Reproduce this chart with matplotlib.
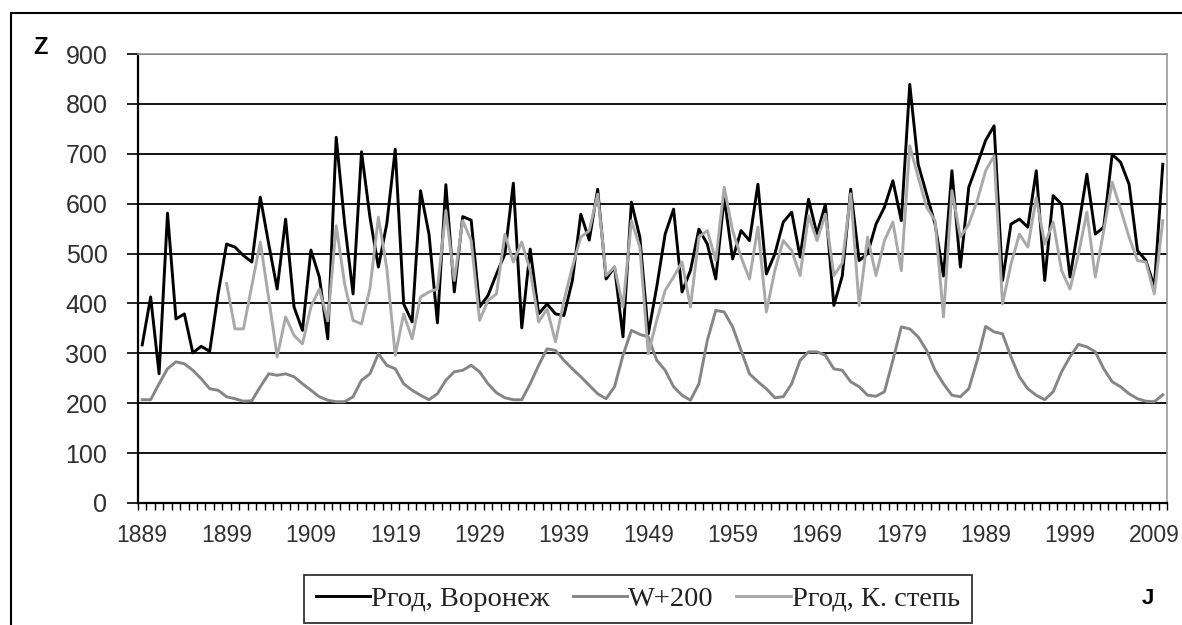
import numpy as np
import matplotlib
matplotlib.use("Agg")
import matplotlib.pyplot as plt
from matplotlib.patches import Rectangle

# years on the category axis
years = list(range(1889, 2011))

# Pгод, Воронеж
voronezh = [
    317, 413, 259, 581, 369, 379, 301, 314, 304, 419,
    519, 513, 496, 483, 613, 519, 429, 569, 393, 346,
    507, 453, 329, 733, 560, 419, 704, 573, 473, 560,
    709, 399, 363, 626, 539, 361, 638, 423, 574, 567,
    393, 416, 459, 499, 641, 351, 509, 379, 399, 379,
    376, 446, 579, 527, 629, 449, 473, 333, 603, 533,
    339, 433, 539, 589, 423, 466, 549, 519, 449, 613,
    489, 546, 526, 639, 459, 499, 563, 583, 493, 609,
    539, 599, 396, 455, 629, 486, 500, 559, 593, 646,
    566, 839, 679, 619, 559, 455, 666, 473, 633, 679,
    727, 756, 446, 559, 569, 553, 666, 446, 616, 599,
    453, 553, 659, 539, 553, 699, 683, 639, 506, 486,
    433, 679,
]

# W+200
w_plus_200 = [
    207, 207, 239, 269, 283, 279, 266, 249, 229, 226,
    213, 209, 204, 205, 233, 259, 256, 259, 253, 239,
    226, 213, 206, 203, 203, 213, 246, 259, 299, 276,
    269, 239, 226, 216, 207, 219, 246, 263, 266, 276,
    263, 239, 221, 211, 207, 207, 239, 276, 309, 306,
    286, 269, 253, 236, 219, 209, 233, 296, 346, 338,
    333, 286, 266, 233, 216, 206, 239, 326, 386, 383,
    353, 306, 259, 243, 229, 211, 213, 239, 286, 303,
    303, 296, 269, 266, 243, 233, 216, 214, 223, 286,
    353, 349, 333, 306, 266, 239, 216, 213, 229, 286,
    354, 343, 339, 293, 253, 229, 216, 207, 223, 263,
    293, 318, 313, 303, 269, 243, 233, 219, 209, 204,
    203, 217,
]

# Pгод, К. степь (series starts in 1899)
kstep_years = list(range(1899, 2011))
kstep = [
    440, 349, 349, 436, 523, 410, 293, 373, 336, 319,
    393, 429, 365, 556, 439, 366, 359, 430, 573, 470,
    296, 379, 329, 413, 423, 429, 586, 446, 566, 526,
    366, 406, 419, 539, 483, 523, 466, 363, 389, 323,
    406, 473, 533, 546, 619, 456, 473, 393, 566, 513,
    299, 366, 426, 453, 483, 393, 533, 546, 486, 633,
    546, 493, 449, 553, 383, 466, 526, 506, 456, 576,
    526, 579, 456, 481, 620, 396, 533, 456, 526, 563,
    466, 716, 653, 593, 566, 373, 626, 533, 559, 606,
    666, 696, 399, 479, 539, 513, 612, 519, 563, 466,
    429, 499, 583, 453, 546, 643, 589, 533, 486, 483,
    419, 566,
]

labels = ["Pгод, Воронеж", "W+200", "Pгод, К. степь"]
colors = ["#000000", "#858585", "#a9a9a9"]

W, H = 1182, 625
fig = plt.figure(figsize=(W / 100, H / 100), dpi=100)
fig.patch.set_facecolor("white")

# outer chart border (right/bottom run off the picture)
fig.patches.append(Rectangle((11 / W, -0.1), 1.2, 1 - 13 / H + 0.1, transform=fig.transFigure,
                             fill=False, edgecolor="black", linewidth=1.5))

ax = fig.add_axes([138 / W, 1 - 503 / H, (1167 - 138) / W, (503 - 54) / H])

x0 = years[0]
xv = [y - x0 + 0.5 for y in years]
xk = [y - x0 + 0.5 for y in kstep_years]

lines = []
lines += ax.plot(xv, voronezh, color=colors[0], lw=2.1, label=labels[0])
lines += ax.plot(xv, w_plus_200, color=colors[1], lw=2.1, label=labels[1])
lines += ax.plot(xk, kstep, color=colors[2], lw=2.1, label=labels[2])

ax.set_xlim(0, len(years))
ax.set_ylim(0, 900)

ax.set_yticks(range(0, 901, 100))
ax.yaxis.grid(True, color="black", lw=1.3)
ax.set_axisbelow(True)

lab_years = years[::10]
ax.set_xticks([y - x0 + 0.5 for y in lab_years])
ax.set_xticklabels([str(y) for y in lab_years])
ax.set_xticks(np.arange(0, len(years) + 1), minor=True)
ax.tick_params(axis="x", which="major", length=0, pad=15)
ax.tick_params(axis="x", which="minor", length=5, width=1, direction="out", color="black")
ax.tick_params(axis="y", which="major", length=8, width=1.2, direction="out", pad=14)

for t in ax.get_xticklabels():
    t.set_fontfamily("Liberation Sans")
    t.set_fontsize(16.5)
    t.set_color("#303030")
for t in ax.get_yticklabels():
    t.set_fontfamily("Liberation Sans")
    t.set_fontsize(18)
    t.set_color("#303030")

for s in ["left", "bottom"]:
    ax.spines[s].set_color("black")
    ax.spines[s].set_linewidth(1.6)
for s in ["top", "right"]:
    ax.spines[s].set_color("#999999")
    ax.spines[s].set_linewidth(1.2)

fig.text(40 / W, 1 - 48 / H, "Z", fontsize=17, fontweight="bold", family="Liberation Sans",
         ha="center", va="center")
fig.text(1148 / W, 1 - 598 / H, "J", fontsize=16, fontweight="bold", family="Liberation Sans",
         ha="center", va="center")

leg = fig.legend(handles=lines, labels=labels, loc="center", bbox_to_anchor=(638 / W, 1 - 599 / H),
                 ncol=3, frameon=True, fancybox=False, edgecolor="black",
                 prop={"family": "Liberation Serif", "size": 20.5},
                 handlelength=1.9, handletextpad=0.05, columnspacing=0.8, borderpad=0.4)
leg.get_frame().set_linewidth(1.3)
for t in leg.get_texts():
    t.set_color("#222222")

fig.savefig("out.png", dpi=100, facecolor="white")
